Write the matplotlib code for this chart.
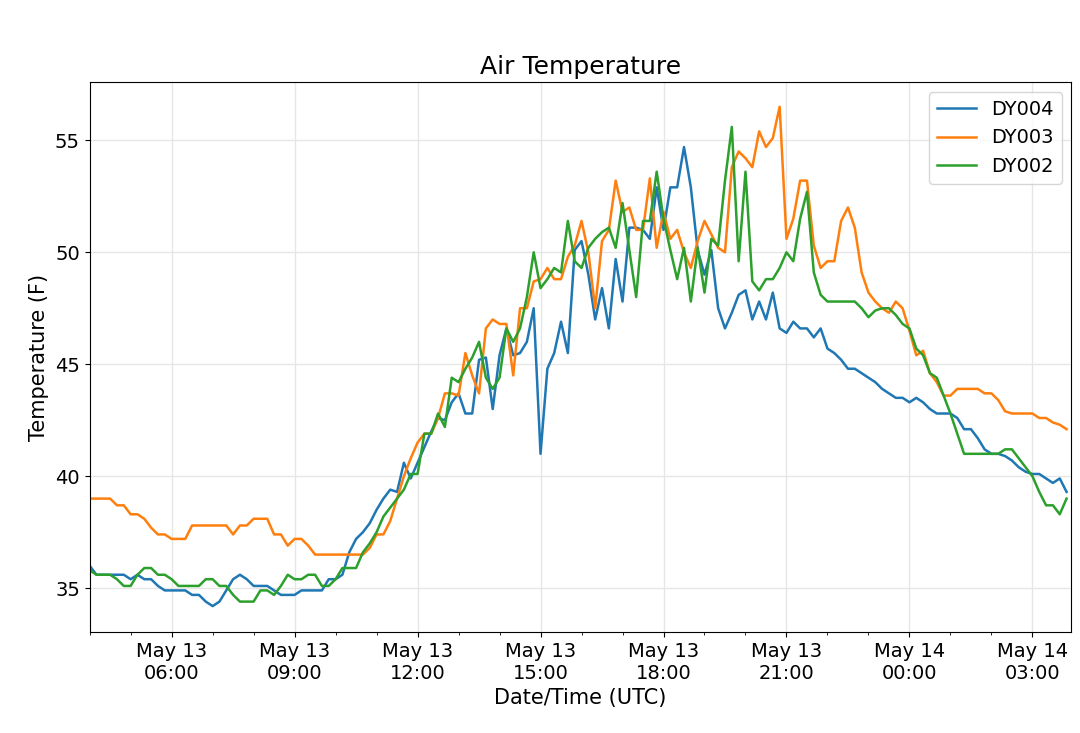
import numpy as np
import pandas as pd
import matplotlib
matplotlib.use("Agg")
import matplotlib.pyplot as plt
import matplotlib.dates as mdates

times = pd.date_range("2019-05-13 04:00", periods=144, freq="10min")

dy004 = [36.0,35.6,35.6,35.6,35.6,35.6, 35.4,35.6,35.4,35.4,35.1,34.9,
         34.9,34.9,34.9,34.7,34.7,34.4, 34.2,34.4,34.9,35.4,35.6,35.4,
         35.1,35.1,35.1,34.9,34.7,34.7, 34.7,34.9,34.9,34.9,34.9,35.4,
         35.4,35.6,36.6,37.2,37.5,37.9, 38.5,39.0,39.4,39.3,40.6,39.9,
         40.6,41.3,42.0,42.6,42.5,43.3, 43.7,42.8,42.8,45.2,45.3,43.0,
         45.4,46.6,45.4,45.5,46.0,47.5, 41.0,44.8,45.5,46.9,45.5,50.1,
         50.5,49.0,47.0,48.4,46.6,49.7, 47.8,51.1,51.1,51.0,50.6,52.9,
         51.0,52.9,52.9,54.7,52.9,50.1, 49.0,50.1,47.5,46.6,47.3,48.1,
         48.3,47.0,47.8,47.0,48.2,46.6, 46.4,46.9,46.6,46.6,46.2,46.6,
         45.7,45.5,45.2,44.8,44.8,44.6, 44.4,44.2,43.9,43.7,43.5,43.5,
         43.3,43.5,43.3,43.0,42.8,42.8, 42.8,42.6,42.1,42.1,41.7,41.2,
         41.0,41.0,40.9,40.7,40.4,40.2, 40.1,40.1,39.9,39.7,39.9,39.3]

dy003 = [39.0,39.0,39.0,39.0,38.7,38.7, 38.3,38.3,38.1,37.7,37.4,37.4,
         37.2,37.2,37.2,37.8,37.8,37.8, 37.8,37.8,37.8,37.4,37.8,37.8,
         38.1,38.1,38.1,37.4,37.4,36.9, 37.2,37.2,36.9,36.5,36.5,36.5,
         36.5,36.5,36.5,36.5,36.5,36.8, 37.4,37.4,38.0,39.0,40.0,40.8,
         41.5,41.9,41.9,42.6,43.7,43.7, 43.6,45.5,44.5,43.7,46.6,47.0,
         46.8,46.8,44.5,47.5,47.5,48.7, 48.8,49.3,48.8,48.8,49.8,50.3,
         51.4,50.0,47.5,50.5,51.0,53.2, 51.8,52.0,51.0,51.0,53.3,50.2,
         51.8,50.6,51.0,50.0,49.3,50.5, 51.4,50.8,50.2,50.0,53.8,54.5,
         54.2,53.8,55.4,54.7,55.1,56.5, 50.6,51.5,53.2,53.2,50.3,49.3,
         49.6,49.6,51.4,52.0,51.1,49.1, 48.2,47.8,47.5,47.3,47.8,47.5,
         46.5,45.4,45.6,44.6,44.2,43.6, 43.6,43.9,43.9,43.9,43.9,43.7,
         43.7,43.4,42.9,42.8,42.8,42.8, 42.8,42.6,42.6,42.4,42.3,42.1]

dy002 = [35.8,35.6,35.6,35.6,35.4,35.1, 35.1,35.6,35.9,35.9,35.6,35.6,
         35.4,35.1,35.1,35.1,35.1,35.4, 35.4,35.1,35.1,34.7,34.4,34.4,
         34.4,34.9,34.9,34.7,35.1,35.6, 35.4,35.4,35.6,35.6,35.1,35.1,
         35.4,35.9,35.9,35.9,36.6,37.0, 37.5,38.2,38.6,39.0,39.4,40.1,
         40.1,41.9,41.9,42.8,42.2,44.4, 44.2,44.8,45.3,46.0,44.4,43.9,
         44.4,46.6,46.0,46.6,48.0,50.0, 48.4,48.8,49.3,49.1,51.4,49.6,
         49.3,50.2,50.6,50.9,51.1,50.2, 52.2,50.1,48.0,51.4,51.4,53.6,
         51.5,50.1,48.8,50.2,47.8,50.2, 48.2,50.6,50.3,53.2,55.6,49.6,
         53.6,48.7,48.3,48.8,48.8,49.3, 50.0,49.6,51.5,52.7,49.1,48.1,
         47.8,47.8,47.8,47.8,47.8,47.5, 47.1,47.4,47.5,47.5,47.2,46.8,
         46.6,45.7,45.4,44.6,44.4,43.6, 42.8,41.9,41.0,41.0,41.0,41.0,
         41.0,41.0,41.2,41.2,40.8,40.4, 40.0,39.3,38.7,38.7,38.3,39.0]

fig = plt.figure(figsize=(10.8, 7.33), dpi=100)
ax = fig.add_axes([0.083, 0.138, 0.909, 0.75])
ax.plot(times, dy004, color="#1f77b4", lw=1.8, label="DY004")
ax.plot(times, dy003, color="#ff7f0e", lw=1.8, label="DY003")
ax.plot(times, dy002, color="#2ca02c", lw=1.8, label="DY002")

ax.set_xlim(times[0], times[-1] + pd.Timedelta(minutes=7))
ax.set_ylim(33.05, 57.6)
ax.set_yticks([35, 40, 45, 50, 55])
ax.xaxis.set_major_locator(mdates.HourLocator(byhour=[0, 3, 6, 9, 12, 15, 18, 21]))
ax.xaxis.set_minor_locator(mdates.HourLocator())
ax.xaxis.set_major_formatter(mdates.DateFormatter("%b %d\n%H:%M"))
ax.grid(True, color="#e6e6e6", lw=1)
ax.tick_params(labelsize=14)
ax.set_title("Air Temperature", fontsize=18)
ax.set_xlabel("Date/Time (UTC)", fontsize=15)
ax.set_ylabel("Temperature (F)", fontsize=15)
ax.legend(fontsize=14, loc="upper right")

fig.savefig("out.png", dpi=100)
